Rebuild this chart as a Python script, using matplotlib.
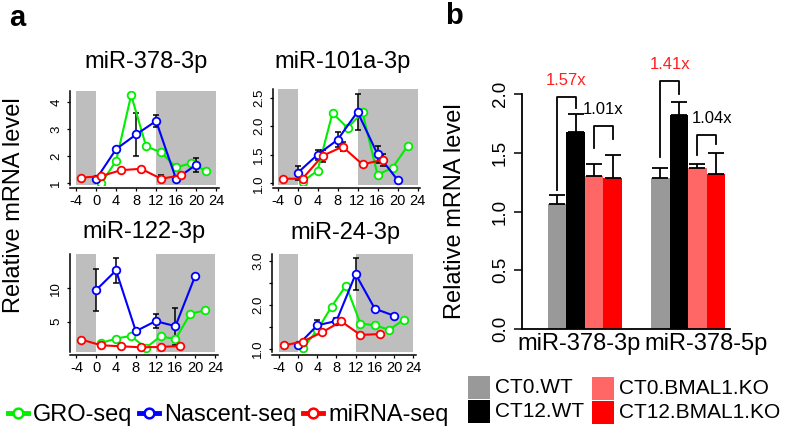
import numpy as np
import matplotlib
matplotlib.use('Agg')
import matplotlib.pyplot as plt
from matplotlib.lines import Line2D
from matplotlib.patches import Rectangle

plt.rcParams['font.family'] = ['Liberation Sans', 'DejaVu Sans']

W, H = 787, 429

# --- panel a: time courses (hours vs relative level) ---
titles = ['miR-378-3p', 'miR-101a-3p', 'miR-122-3p', 'miR-24-3p']

gro_t = [1, 4, 7, 10, 13, 16, 19, 22]
nas_t = [0, 4, 8, 12, 16, 20]
mir_t = [-3, 1, 5, 9, 13, 17]

gro_vals = [
    [1.00, 1.84, 4.27, 2.37, 2.15, 1.59, 1.75, 1.46],
    [1.03, 1.22, 2.23, 1.97, 2.24, 1.15, 1.27, 1.65],
    [1.85, 2.50, 2.90, 1.10, 2.85, 2.40, 6.20, 6.70],
    [1.01, 1.42, 1.96, 2.44, 1.57, 1.53, 1.43, 1.65],
]
nas_vals = [
    [1.16, 2.27, 2.81, 3.31, 1.16, 1.69],
    [1.18, 1.50, 1.76, 2.25, 1.51, 1.06],
    [9.75, 12.65, 3.60, 5.10, 4.35, 11.85],
    [1.08, 1.53, 1.63, 2.70, 1.91, 1.75],
]
nas_err = [
    [0, 0, 0.78, 0.22, 0.10, 0.26],
    [0.12, 0.09, 0.13, 0.31, 0.15, 0],
    [3.1, 1.8, 0, 1.05, 2.75, 0],
    [0, 0.12, 0.06, 0.36, 0, 0],
]
mir_vals = [
    [1.21, 1.27, 1.49, 1.54, 1.17, 1.30],
    [1.08, 1.08, 1.48, 1.64, 1.33, 1.41],
    [2.35, 1.50, 1.35, 1.20, 1.25, 1.40],
    [1.07, 1.16, 1.37, 1.62, 1.31, 1.33],
]
mir_err = [
    [0, 0, 0, 0, 0.13, 0],
    [0, 0, 0.10, 0.08, 0, 0.10],
    [0, 0, 0, 0, 0, 0],
    [0, 0, 0, 0, 0, 0],
]
hour_ticks = [-4, 0, 4, 8, 12, 16, 20, 24]
y_ticks = [[1, 2, 3, 4], [1.0, 1.5, 2.0, 2.5], [5, 10], [1.0, 1.5, 2.0, 2.5, 3.0]]
y_ticklabels = [['1', '2', '3', '4'], ['1.0', '1.5', '2.0', '2.5'], ['5', '10'],
                ['1.0', '', '2.0', '', '3.0']]
series_names = ['GRO-seq', 'Nascent-seq', 'miRNA-seq']
series_colors = ['#00EE00', '#0000FF', '#FF0000']

# --- panel b: bar chart ---
groups = ['miR-378-3p', 'miR-378-5p']
conds = ['CT0.WT', 'CT12.WT', 'CT0.BMAL1.KO', 'CT12.BMAL1.KO']
cond_colors = ['#999999', '#000000', '#FF6666', '#FF0000']
bar_vals = [[1.06, 1.68, 1.30, 1.285], [1.285, 1.82, 1.37, 1.32]]
bar_err = [[0.08, 0.15, 0.10, 0.195], [0.085, 0.11, 0.03, 0.18]]

fold_labels = ['1.57x', '1.01x', '1.41x', '1.04x']
fold_colors = ['#FF2020', 'black', '#FF2020', 'black']
fold_group = [0, 0, 1, 1]
fold_bars = [(0, 1), (2, 3), (0, 1), (2, 3)]
fold_top = [1.974, 1.724, 2.11, 1.655]
fold_left_end = [1.183, 1.54, 1.464, 1.481]
fold_right_end = [1.881, 1.617, 2.0, 1.574]


def rect(l, t, r, b):
    return [l / W, 1 - b / H, (r - l) / W, (b - t) / H]


fig = plt.figure(figsize=(W / 100, H / 100), dpi=100)

# layout of the four small panels, in pixels
a_rects = [(70, 91, 219, 185), (273, 89, 420, 185), (70, 254, 218, 352), (272, 254, 416, 352)]
a_xlims = [(-5.25, 24.6), (-4.9, 24.5), (-5.3, 24.6), (-5.45, 24.6)]
a_ylims = [(0.94, 4.42), (0.97, 2.65), (0.5, 15.1), (0.92, 3.16)]
title_pos = [(146, 62), (343, 62), (144, 232), (345, 233)]

for k in range(4):
    ax = fig.add_axes(rect(*a_rects[k]))
    ax.axvspan(-4, 0, color='#BEBEBE', lw=0, zorder=0)
    ax.axvspan(12, 24, color='#BEBEBE', lw=0, zorder=0)

    ne = np.array(nas_err[k])
    m = ne > 0
    ax.errorbar(np.array(nas_t)[m], np.array(nas_vals[k])[m], yerr=ne[m], fmt='none',
                ecolor='black', elinewidth=1.1, capsize=2, capthick=1.1, zorder=2)
    me = np.array(mir_err[k])
    m = me > 0
    if m.any():
        ax.errorbar(np.array(mir_t)[m], np.array(mir_vals[k])[m], yerr=me[m], fmt='none',
                    ecolor='black', elinewidth=1.1, capsize=2, capthick=1.1, zorder=2)

    for t, v, c in [(gro_t, gro_vals[k], series_colors[0]),
                    (nas_t, nas_vals[k], series_colors[1]),
                    (mir_t, mir_vals[k], series_colors[2])]:
        ax.plot(t, v, color=c, lw=1.5, marker='o', ms=5.5, mfc='white', mec=c, mew=1.3, zorder=3)

    ax.set_xlim(*a_xlims[k])
    ax.set_ylim(*a_ylims[k])
    ax.set_xticks(hour_ticks)
    ax.set_xticklabels([str(h) for h in hour_ticks])
    ax.set_yticks(y_ticks[k])
    ax.set_yticklabels(y_ticklabels[k], rotation=90, va='center')
    ax.tick_params(length=2.5, width=0.9, labelsize=10.5, pad=2)
    ax.tick_params(axis='y', labelsize=9.5, pad=3)
    for s in ['top', 'right']:
        ax.spines[s].set_visible(False)
    ax.spines['bottom'].set_position(('outward', 2.2))
    for s in ['left', 'bottom']:
        ax.spines[s].set_linewidth(1.1)
    fig.text(title_pos[k][0] / W, 1 - title_pos[k][1] / H, titles[k], fontsize=17,
             ha='center', va='center')

fig.text(14 / W, 1 - 205 / H, 'Relative mRNA level', fontsize=17, rotation=90,
         ha='center', va='center')
fig.text(17 / W, 1 - 18 / H, 'a', fontsize=21, fontweight='bold', ha='center', va='center')

handles = [Line2D([], [], color=c, lw=3.5, marker='o', ms=7, mfc='white', mec=c, mew=1.8)
           for c in series_colors]
fig.legend(handles, series_names, ncol=3, loc='center left',
           bbox_to_anchor=(8 / W, 1 - 415 / H), frameon=False, fontsize=17,
           handlelength=0.85, handletextpad=0.2, columnspacing=0.3,
           borderpad=0, borderaxespad=0)

# --- panel b ---
axb = fig.add_axes(rect(522, 94, 730, 329))
group_step = 5.6
bar_x = [[g * group_step + i for i in range(4)] for g in range(2)]
for g in range(2):
    axb.bar(bar_x[g], bar_vals[g], width=1.0, color=cond_colors, lw=0, zorder=2)
    axb.errorbar(bar_x[g], bar_vals[g], yerr=[[0] * 4, bar_err[g]], fmt='none',
                 ecolor='black', elinewidth=1.3, capsize=6, capthick=1.3, zorder=3)

for f in range(4):
    g = fold_group[f]
    xl = bar_x[g][fold_bars[f][0]]
    xr = bar_x[g][fold_bars[f][1]]
    axb.plot([xl, xl, xr, xr], [fold_left_end[f], fold_top[f], fold_top[f], fold_right_end[f]],
             color='black', lw=1.3, clip_on=False, zorder=4)
    axb.text((xl + xr) / 2 + (0.3 if f == 3 else 0), fold_top[f] + 0.14, fold_labels[f],
             color=fold_colors[f], fontsize=12, ha='center', va='center', clip_on=False)

axb.set_xlim(-1.91, 9.37)
axb.set_ylim(0, 2.0)
axb.set_yticks([0, 0.5, 1.0, 1.5, 2.0])
axb.set_yticklabels(['0.0', '0.5', '1.0', '1.5', '2.0'], rotation=90, va='center')
axb.set_xticks([bar_x[0][0] + 1.18, bar_x[1][0] + 2.47])
axb.set_xticklabels(groups, fontsize=17)
axb.tick_params(axis='x', length=0, pad=3)
axb.tick_params(axis='y', length=5.5, width=1.1, labelsize=13.5, pad=4)
for s in ['top', 'right']:
    axb.spines[s].set_visible(False)
axb.spines['left'].set_bounds(0, 2.0)
for s in ['left', 'bottom']:
    axb.spines[s].set_linewidth(1.3)

fig.text(455 / W, 1 - 211 / H, 'Relative mRNA level', fontsize=17, rotation=90,
         ha='center', va='center')
fig.text(454 / W, 1 - 16 / H, 'b', fontsize=21, fontweight='bold', ha='center', va='center')

# legend boxes for the four conditions
leg_x = [468, 468, 592, 592]
leg_y = [376, 400, 377, 401]
for i in range(4):
    fig.patches.append(Rectangle((leg_x[i] / W, 1 - (leg_y[i] + 23) / H), 22 / W, 23 / H,
                                 transform=fig.transFigure, color=cond_colors[i], lw=0))
    fig.text((leg_x[i] + 27) / W, 1 - (leg_y[i] + 11.5) / H, conds[i], fontsize=15,
             ha='left', va='center')

fig.savefig('out.png', dpi=100)
